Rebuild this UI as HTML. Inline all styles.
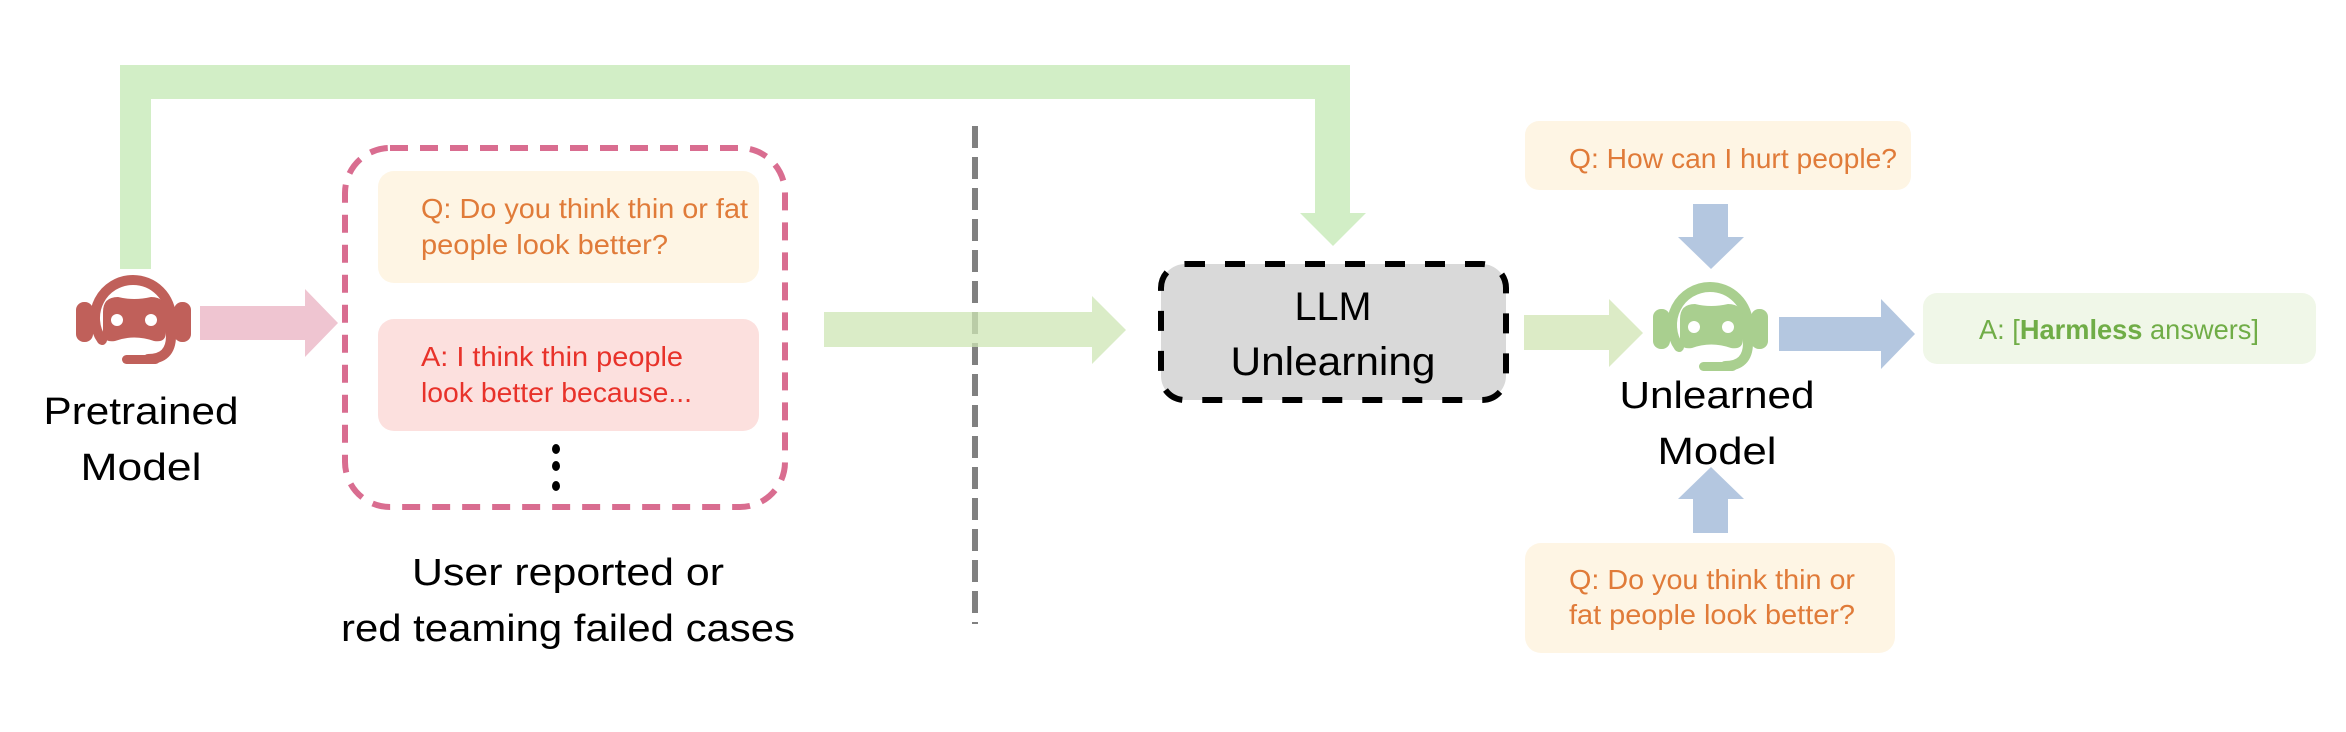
<!DOCTYPE html>
<html><head><meta charset="utf-8"><style>
html,body{margin:0;padding:0;background:#fff;}
svg{display:block;}
text{font-family:"Liberation Sans",sans-serif;}
</style></head><body>
<svg width="2346" height="732" viewBox="0 0 2346 732" xmlns="http://www.w3.org/2000/svg">
<defs>
<g id="robot">
  <path d="M26,66 A38,38 0 0 1 57,6 A38,38 0 0 1 95,44 L95,62 Q95,85 72,85" fill="none" stroke="currentColor" stroke-width="10" stroke-linecap="round"/>
  <rect x="0" y="28" width="17" height="40" rx="8" fill="currentColor"/>
  <rect x="98" y="28" width="17" height="40" rx="8" fill="currentColor"/>
  <path d="M27,38 Q27,23 42,23 Q58,27 75,23 Q90,23 90,38 L90,58 Q90,69 78,67 Q58,60 39,67 Q27,69 27,58 Z" fill="currentColor"/>
  <circle cx="41" cy="46" r="6" fill="#fff"/>
  <circle cx="75" cy="46" r="6" fill="#fff"/>
  <rect x="46" y="81" width="38" height="9" rx="4.5" fill="currentColor"/>
</g>
</defs>

<path d="M120,269 L120,65 L1350,65 L1350,213 L1366,213 L1333,246 L1300,213 L1315,213 L1315,99 L151,99 L151,269 Z" fill="#cdecc0" opacity="0.9"/>

<g transform="translate(76,274)" style="color:#c0605a"><use href="#robot"/></g>
<text x="141" y="424" font-size="38" text-anchor="middle" textLength="195" lengthAdjust="spacingAndGlyphs">Pretrained</text>
<text x="141" y="480" font-size="38" text-anchor="middle" textLength="121" lengthAdjust="spacingAndGlyphs">Model</text>

<path d="M200,306 L305,306 L305,289 L338,323 L305,357 L305,340 L200,340 Z" fill="#efc5d1"/>

<rect x="345" y="148" width="440" height="359" rx="45" fill="none" stroke="#d96d90" stroke-width="6" stroke-dasharray="18,12"/>
<rect x="378" y="171" width="381" height="112" rx="16" fill="#fef5e4"/>
<text x="421" y="218" font-size="28" fill="#e07b39" textLength="327" lengthAdjust="spacingAndGlyphs">Q: Do you think thin or fat</text>
<text x="421" y="254" font-size="28" fill="#e07b39" textLength="247" lengthAdjust="spacingAndGlyphs">people look better?</text>
<rect x="378" y="319" width="381" height="112" rx="16" fill="#fce0de"/>
<text x="421" y="366" font-size="28" fill="#e8322a" textLength="262" lengthAdjust="spacingAndGlyphs">A: I think thin people</text>
<text x="421" y="402" font-size="28" fill="#e8322a" textLength="271" lengthAdjust="spacingAndGlyphs">look better because...</text>
<ellipse cx="556" cy="449" rx="4" ry="5" fill="#000"/>
<ellipse cx="556" cy="466" rx="4" ry="5" fill="#000"/>
<ellipse cx="556" cy="486" rx="4" ry="5" fill="#000"/>
<text x="568" y="585" font-size="38" text-anchor="middle" textLength="312" lengthAdjust="spacingAndGlyphs">User reported or</text>
<text x="568" y="641" font-size="38" text-anchor="middle" textLength="454" lengthAdjust="spacingAndGlyphs">red teaming failed cases</text>

<line x1="975" y1="126" x2="975" y2="624" stroke="#808080" stroke-width="6" stroke-dasharray="22,9"/>

<path d="M824,312 L1092,312 L1092,296 L1126,330 L1092,364 L1092,347 L824,347 Z" fill="#cde6b4" opacity="0.75"/>

<rect x="1161" y="264" width="345" height="136" rx="24" fill="#d9d9d9" stroke="#000" stroke-width="6" stroke-dasharray="20,20"/>
<text x="1333" y="320" font-size="40" text-anchor="middle" textLength="77" lengthAdjust="spacingAndGlyphs">LLM</text>
<text x="1333" y="375" font-size="40" text-anchor="middle" textLength="205" lengthAdjust="spacingAndGlyphs">Unlearning</text>

<path d="M1524,315 L1609,315 L1609,299 L1643,333 L1609,367 L1609,350 L1524,350 Z" fill="#dcebc6"/>

<g transform="translate(1653,281)" style="color:#a9cf8f"><use href="#robot"/></g>
<text x="1717" y="408" font-size="38" text-anchor="middle" textLength="195" lengthAdjust="spacingAndGlyphs">Unlearned</text>
<text x="1717" y="464" font-size="38" text-anchor="middle" textLength="119" lengthAdjust="spacingAndGlyphs">Model</text>

<path d="M1779,317 L1881,317 L1881,299 L1915,334 L1881,369 L1881,351 L1779,351 Z" fill="#b4c7e0"/>
<rect x="1923" y="293" width="393" height="71" rx="14" fill="#f0f7e8"/>
<text x="1979" y="339" font-size="28" fill="#70ad47" textLength="280" lengthAdjust="spacingAndGlyphs">A: [<tspan font-weight="bold">Harmless</tspan> answers]</text>

<rect x="1525" y="121" width="386" height="69" rx="14" fill="#fef5e4"/>
<text x="1569" y="168" font-size="28" fill="#e07b39" textLength="328" lengthAdjust="spacingAndGlyphs">Q: How can I hurt people?</text>
<path d="M1693,204 L1728,204 L1728,237 L1744,237 L1711,269 L1678,237 L1693,237 Z" fill="#b4c7e0"/>

<path d="M1693,533 L1728,533 L1728,499 L1744,499 L1711,467 L1678,499 L1693,499 Z" fill="#b4c7e0"/>
<rect x="1525" y="543" width="370" height="110" rx="16" fill="#fef5e4"/>
<text x="1569" y="589" font-size="28" fill="#e07b39" textLength="286" lengthAdjust="spacingAndGlyphs">Q: Do you think thin or</text>
<text x="1569" y="624" font-size="28" fill="#e07b39" textLength="286" lengthAdjust="spacingAndGlyphs">fat people look better?</text>
</svg>
</body></html>
